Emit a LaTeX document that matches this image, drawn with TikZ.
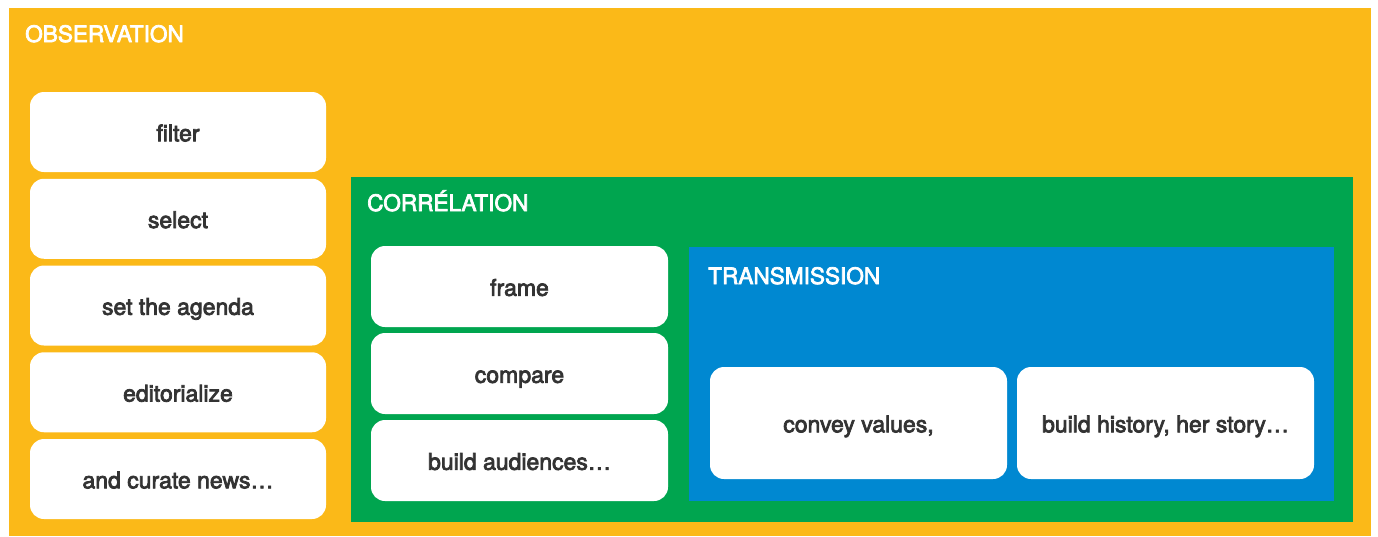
\documentclass[tikz,border=0pt]{standalone}
\usepackage{fontspec}
\setmainfont{TeX Gyre Heros}
\newfontfamily\medfont{TeX Gyre Heros}[FakeBold=3.2]
\definecolor{obsyellow}{HTML}{FBB918}
\definecolor{corgreen}{HTML}{00A54F}
\definecolor{trblue}{HTML}{0088D1}
\definecolor{txtgray}{HTML}{333333}
\tikzset{
  itembox/.style={fill=white, draw=none, rounded corners=14pt, align=center,
    text=txtgray, font=\medfont\fontsize{23}{27}\selectfont, inner sep=0pt,
    text height=18.6pt, text depth=0pt},
  leftbox/.style={itembox, minimum width=296pt, minimum height=80pt},
  midbox/.style={itembox, minimum width=297pt, minimum height=81pt},
  trbox/.style={itembox, minimum width=297pt, minimum height=112pt},
  grouplabel/.style={anchor=base west, text=white, inner sep=0pt, font=\medfont\fontsize{22.6}{26}\selectfont},
}
\begin{document}
\begin{tikzpicture}[x=1pt,y=-1pt]
\useasboundingbox (0,0) rectangle (1378,536);
% containers
\fill[obsyellow] (9,8) rectangle (1371,536);
\fill[corgreen] (351,177) rectangle (1353,522);
\fill[trblue] (689,247) rectangle (1334,501);
% labels
\node[grouplabel] (obslabel) at (25,42) {OBSERVATION};
\node[grouplabel] (corlabel) at (367,211) {CORRÉLATION};
\node[grouplabel] (trlabel) at (708,284) {TRANSMISSION};
% observation items
\node[leftbox] (filter) at (178,132) {filter};
\node[leftbox] (select) at (178,218.75) {select};
\node[leftbox] (agenda) at (178,305.5) {set the agenda};
\node[leftbox] (editorialize) at (178,392.25) {editorialize};
\node[leftbox] (curate) at (178,479) {and curate news…};
% correlation items
\node[midbox] (frame) at (519.5,286.5) {frame};
\node[midbox] (compare) at (519.5,373.5) {compare};
\node[midbox] (audiences) at (519.5,460.5) {build audiences…};
% transmission items
\node[trbox] (convey) at (858.5,423) {convey values,};
\node[trbox] (history) at (1165.5,423) {build history, her story…};
\end{tikzpicture}
\end{document}
